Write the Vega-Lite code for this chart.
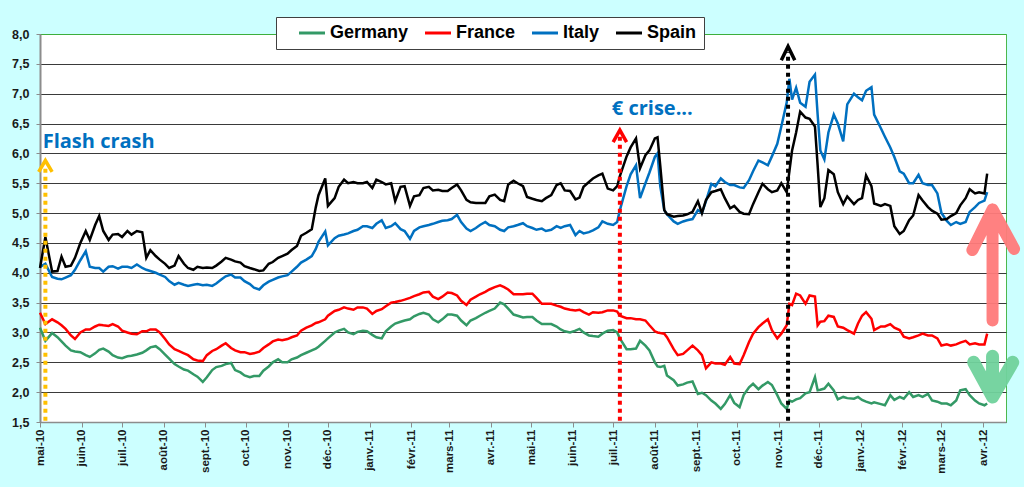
{
  "$schema": "https://vega.github.io/schema/vega-lite/v6.json",
  "width": 966,
  "height": 388,
  "autosize": {"type": "none"},
  "padding": {"left": 40, "top": 34, "right": 18, "bottom": 65},
  "background": "#CCFFFF",
  "datasets": {
    "yields": [
      {"date":"2010-05-01","Germany":3.08,"France":3.33,"Italy":4.10,"Spain":4.08},
      {"date":"2010-05-05","Germany":2.86,"France":3.14,"Italy":4.15,"Spain":4.60},
      {"date":"2010-05-10","Germany":2.99,"France":3.22,"Italy":3.93,"Spain":4.02},
      {"date":"2010-05-14","Germany":2.92,"France":3.17,"Italy":3.90,"Spain":4.03},
      {"date":"2010-05-17","Germany":2.85,"France":3.12,"Italy":3.89,"Spain":4.27},
      {"date":"2010-05-20","Germany":2.78,"France":3.06,"Italy":3.92,"Spain":4.10},
      {"date":"2010-05-24","Germany":2.70,"France":2.95,"Italy":3.96,"Spain":4.12},
      {"date":"2010-05-27","Germany":2.68,"France":2.89,"Italy":4.05,"Spain":4.25},
      {"date":"2010-05-31","Germany":2.67,"France":3.00,"Italy":4.21,"Spain":4.50},
      {"date":"2010-06-04","Germany":2.62,"France":3.05,"Italy":4.36,"Spain":4.70},
      {"date":"2010-06-07","Germany":2.59,"France":3.05,"Italy":4.10,"Spain":4.55},
      {"date":"2010-06-11","Germany":2.65,"France":3.10,"Italy":4.08,"Spain":4.80},
      {"date":"2010-06-14","Germany":2.71,"France":3.13,"Italy":4.08,"Spain":4.95},
      {"date":"2010-06-17","Germany":2.73,"France":3.12,"Italy":4.02,"Spain":4.70},
      {"date":"2010-06-21","Germany":2.68,"France":3.11,"Italy":4.10,"Spain":4.55},
      {"date":"2010-06-24","Germany":2.62,"France":3.14,"Italy":4.11,"Spain":4.64},
      {"date":"2010-06-28","Germany":2.58,"France":3.10,"Italy":4.07,"Spain":4.65},
      {"date":"2010-07-01","Germany":2.57,"France":3.03,"Italy":4.10,"Spain":4.60},
      {"date":"2010-07-05","Germany":2.60,"France":3.00,"Italy":4.10,"Spain":4.70},
      {"date":"2010-07-08","Germany":2.61,"France":2.98,"Italy":4.08,"Spain":4.64},
      {"date":"2010-07-12","Germany":2.63,"France":2.97,"Italy":4.14,"Spain":4.70},
      {"date":"2010-07-16","Germany":2.66,"France":3.02,"Italy":4.08,"Spain":4.68},
      {"date":"2010-07-19","Germany":2.70,"France":3.02,"Italy":4.05,"Spain":4.25},
      {"date":"2010-07-22","Germany":2.75,"France":3.05,"Italy":4.03,"Spain":4.38},
      {"date":"2010-07-26","Germany":2.77,"France":3.05,"Italy":4.00,"Spain":4.28},
      {"date":"2010-07-29","Germany":2.72,"France":3.00,"Italy":3.97,"Spain":4.22},
      {"date":"2010-08-02","Germany":2.63,"France":2.89,"Italy":3.93,"Spain":4.15},
      {"date":"2010-08-05","Germany":2.56,"France":2.80,"Italy":3.86,"Spain":4.08},
      {"date":"2010-08-09","Germany":2.47,"France":2.72,"Italy":3.80,"Spain":4.12},
      {"date":"2010-08-12","Germany":2.43,"France":2.69,"Italy":3.83,"Spain":4.28},
      {"date":"2010-08-16","Germany":2.38,"France":2.65,"Italy":3.80,"Spain":4.15},
      {"date":"2010-08-19","Germany":2.36,"France":2.62,"Italy":3.78,"Spain":4.08},
      {"date":"2010-08-23","Germany":2.30,"France":2.55,"Italy":3.80,"Spain":4.05},
      {"date":"2010-08-26","Germany":2.26,"France":2.53,"Italy":3.81,"Spain":4.10},
      {"date":"2010-08-30","Germany":2.17,"France":2.52,"Italy":3.79,"Spain":4.08},
      {"date":"2010-09-02","Germany":2.25,"France":2.62,"Italy":3.80,"Spain":4.09},
      {"date":"2010-09-06","Germany":2.37,"France":2.69,"Italy":3.78,"Spain":4.08},
      {"date":"2010-09-09","Germany":2.42,"France":2.72,"Italy":3.82,"Spain":4.12},
      {"date":"2010-09-13","Germany":2.44,"France":2.78,"Italy":3.89,"Spain":4.19},
      {"date":"2010-09-16","Germany":2.47,"France":2.82,"Italy":3.94,"Spain":4.25},
      {"date":"2010-09-20","Germany":2.49,"France":2.74,"Italy":3.97,"Spain":4.22},
      {"date":"2010-09-23","Germany":2.37,"France":2.70,"Italy":3.92,"Spain":4.19},
      {"date":"2010-09-27","Germany":2.33,"France":2.67,"Italy":3.92,"Spain":4.17},
      {"date":"2010-09-30","Germany":2.28,"France":2.67,"Italy":3.86,"Spain":4.11},
      {"date":"2010-10-04","Germany":2.25,"France":2.64,"Italy":3.81,"Spain":4.08},
      {"date":"2010-10-07","Germany":2.27,"France":2.65,"Italy":3.75,"Spain":4.06},
      {"date":"2010-10-11","Germany":2.27,"France":2.68,"Italy":3.72,"Spain":4.03},
      {"date":"2010-10-14","Germany":2.36,"France":2.74,"Italy":3.79,"Spain":4.04},
      {"date":"2010-10-18","Germany":2.43,"France":2.80,"Italy":3.85,"Spain":4.15},
      {"date":"2010-10-21","Germany":2.50,"France":2.85,"Italy":3.88,"Spain":4.18},
      {"date":"2010-10-25","Germany":2.55,"France":2.88,"Italy":3.92,"Spain":4.25},
      {"date":"2010-10-28","Germany":2.50,"France":2.87,"Italy":3.94,"Spain":4.28},
      {"date":"2010-11-01","Germany":2.50,"France":2.89,"Italy":3.96,"Spain":4.32},
      {"date":"2010-11-04","Germany":2.55,"France":2.92,"Italy":4.02,"Spain":4.38},
      {"date":"2010-11-08","Germany":2.58,"France":2.95,"Italy":4.10,"Spain":4.45},
      {"date":"2010-11-11","Germany":2.62,"France":3.03,"Italy":4.17,"Spain":4.62},
      {"date":"2010-11-15","Germany":2.66,"France":3.08,"Italy":4.22,"Spain":4.67},
      {"date":"2010-11-19","Germany":2.70,"France":3.12,"Italy":4.28,"Spain":4.73},
      {"date":"2010-11-22","Germany":2.73,"France":3.16,"Italy":4.40,"Spain":5.10},
      {"date":"2010-11-24","Germany":2.76,"France":3.17,"Italy":4.52,"Spain":5.30},
      {"date":"2010-11-29","Germany":2.86,"France":3.22,"Italy":4.69,"Spain":5.58},
      {"date":"2010-12-01","Germany":2.90,"France":3.28,"Italy":4.46,"Spain":5.12},
      {"date":"2010-12-06","Germany":3.00,"France":3.36,"Italy":4.58,"Spain":5.25},
      {"date":"2010-12-09","Germany":3.03,"France":3.38,"Italy":4.62,"Spain":5.44},
      {"date":"2010-12-13","Germany":3.06,"France":3.42,"Italy":4.64,"Spain":5.56},
      {"date":"2010-12-16","Germany":3.00,"France":3.40,"Italy":4.66,"Spain":5.50},
      {"date":"2010-12-20","Germany":2.97,"France":3.38,"Italy":4.70,"Spain":5.52},
      {"date":"2010-12-23","Germany":3.01,"France":3.42,"Italy":4.72,"Spain":5.50},
      {"date":"2010-12-27","Germany":3.03,"France":3.42,"Italy":4.78,"Spain":5.50},
      {"date":"2010-12-30","Germany":3.02,"France":3.40,"Italy":4.78,"Spain":5.52},
      {"date":"2011-01-03","Germany":2.96,"France":3.31,"Italy":4.75,"Spain":5.42},
      {"date":"2011-01-06","Germany":2.92,"France":3.36,"Italy":4.82,"Spain":5.56},
      {"date":"2011-01-10","Germany":2.90,"France":3.39,"Italy":4.88,"Spain":5.52},
      {"date":"2011-01-13","Germany":3.02,"France":3.44,"Italy":4.75,"Spain":5.48},
      {"date":"2011-01-17","Germany":3.10,"France":3.50,"Italy":4.78,"Spain":5.50},
      {"date":"2011-01-20","Germany":3.15,"France":3.51,"Italy":4.83,"Spain":5.20},
      {"date":"2011-01-24","Germany":3.18,"France":3.53,"Italy":4.73,"Spain":5.44},
      {"date":"2011-01-27","Germany":3.20,"France":3.55,"Italy":4.70,"Spain":5.45},
      {"date":"2011-01-31","Germany":3.22,"France":3.58,"Italy":4.57,"Spain":5.12},
      {"date":"2011-02-03","Germany":3.27,"France":3.61,"Italy":4.70,"Spain":5.28},
      {"date":"2011-02-07","Germany":3.31,"France":3.64,"Italy":4.76,"Spain":5.30},
      {"date":"2011-02-10","Germany":3.33,"France":3.67,"Italy":4.78,"Spain":5.42},
      {"date":"2011-02-14","Germany":3.30,"France":3.68,"Italy":4.80,"Spain":5.44},
      {"date":"2011-02-17","Germany":3.22,"France":3.60,"Italy":4.82,"Spain":5.38},
      {"date":"2011-02-21","Germany":3.17,"France":3.56,"Italy":4.85,"Spain":5.39},
      {"date":"2011-02-24","Germany":3.22,"France":3.60,"Italy":4.87,"Spain":5.37},
      {"date":"2011-02-28","Germany":3.30,"France":3.67,"Italy":4.88,"Spain":5.37},
      {"date":"2011-03-03","Germany":3.30,"France":3.66,"Italy":4.90,"Spain":5.42},
      {"date":"2011-03-07","Germany":3.28,"France":3.62,"Italy":4.97,"Spain":5.48},
      {"date":"2011-03-10","Germany":3.20,"France":3.53,"Italy":4.85,"Spain":5.38},
      {"date":"2011-03-14","Germany":3.12,"France":3.46,"Italy":4.74,"Spain":5.22},
      {"date":"2011-03-17","Germany":3.20,"France":3.55,"Italy":4.70,"Spain":5.18},
      {"date":"2011-03-21","Germany":3.24,"France":3.60,"Italy":4.75,"Spain":5.17},
      {"date":"2011-03-24","Germany":3.28,"France":3.64,"Italy":4.80,"Spain":5.17},
      {"date":"2011-03-28","Germany":3.33,"France":3.68,"Italy":4.85,"Spain":5.17},
      {"date":"2011-03-31","Germany":3.36,"France":3.72,"Italy":4.80,"Spain":5.28},
      {"date":"2011-04-04","Germany":3.40,"France":3.76,"Italy":4.78,"Spain":5.31},
      {"date":"2011-04-08","Germany":3.50,"France":3.79,"Italy":4.72,"Spain":5.22},
      {"date":"2011-04-11","Germany":3.47,"France":3.76,"Italy":4.70,"Spain":5.20},
      {"date":"2011-04-14","Germany":3.40,"France":3.72,"Italy":4.76,"Spain":5.48},
      {"date":"2011-04-18","Germany":3.30,"France":3.64,"Italy":4.78,"Spain":5.54},
      {"date":"2011-04-21","Germany":3.28,"France":3.64,"Italy":4.80,"Spain":5.50},
      {"date":"2011-04-25","Germany":3.25,"France":3.64,"Italy":4.83,"Spain":5.45},
      {"date":"2011-04-28","Germany":3.26,"France":3.65,"Italy":4.78,"Spain":5.27},
      {"date":"2011-05-02","Germany":3.26,"France":3.65,"Italy":4.75,"Spain":5.24},
      {"date":"2011-05-05","Germany":3.20,"France":3.58,"Italy":4.72,"Spain":5.22},
      {"date":"2011-05-09","Germany":3.14,"France":3.48,"Italy":4.74,"Spain":5.20},
      {"date":"2011-05-12","Germany":3.14,"France":3.48,"Italy":4.70,"Spain":5.25},
      {"date":"2011-05-16","Germany":3.14,"France":3.48,"Italy":4.72,"Spain":5.30},
      {"date":"2011-05-20","Germany":3.10,"France":3.45,"Italy":4.78,"Spain":5.47},
      {"date":"2011-05-23","Germany":3.05,"France":3.43,"Italy":4.75,"Spain":5.50},
      {"date":"2011-05-26","Germany":3.02,"France":3.40,"Italy":4.78,"Spain":5.38},
      {"date":"2011-05-30","Germany":3.00,"France":3.38,"Italy":4.80,"Spain":5.37},
      {"date":"2011-06-03","Germany":3.03,"France":3.37,"Italy":4.63,"Spain":5.23},
      {"date":"2011-06-06","Germany":3.06,"France":3.38,"Italy":4.70,"Spain":5.26},
      {"date":"2011-06-09","Germany":3.00,"France":3.34,"Italy":4.66,"Spain":5.44},
      {"date":"2011-06-13","Germany":2.95,"France":3.30,"Italy":4.68,"Spain":5.52},
      {"date":"2011-06-16","Germany":2.94,"France":3.34,"Italy":4.71,"Spain":5.58},
      {"date":"2011-06-20","Germany":2.93,"France":3.33,"Italy":4.76,"Spain":5.63},
      {"date":"2011-06-23","Germany":2.98,"France":3.34,"Italy":4.86,"Spain":5.66},
      {"date":"2011-06-27","Germany":3.03,"France":3.37,"Italy":4.82,"Spain":5.41},
      {"date":"2011-07-01","Germany":3.04,"France":3.37,"Italy":4.80,"Spain":5.38},
      {"date":"2011-07-04","Germany":3.00,"France":3.35,"Italy":4.85,"Spain":5.45},
      {"date":"2011-07-06","Germany":2.90,"France":3.28,"Italy":5.05,"Spain":5.62},
      {"date":"2011-07-11","Germany":2.72,"France":3.24,"Italy":5.45,"Spain":5.95},
      {"date":"2011-07-14","Germany":2.72,"France":3.24,"Italy":5.65,"Spain":6.10},
      {"date":"2011-07-18","Germany":2.73,"France":3.22,"Italy":5.80,"Spain":6.25},
      {"date":"2011-07-21","Germany":2.86,"France":3.22,"Italy":5.25,"Spain":5.75},
      {"date":"2011-07-25","Germany":2.78,"France":3.20,"Italy":5.50,"Spain":5.97},
      {"date":"2011-07-28","Germany":2.70,"France":3.12,"Italy":5.68,"Spain":6.05},
      {"date":"2011-08-01","Germany":2.50,"France":3.02,"Italy":5.94,"Spain":6.25},
      {"date":"2011-08-03","Germany":2.43,"France":3.00,"Italy":6.00,"Spain":6.27},
      {"date":"2011-08-05","Germany":2.42,"France":2.99,"Italy":5.45,"Spain":5.80},
      {"date":"2011-08-08","Germany":2.44,"France":2.98,"Italy":5.05,"Spain":5.05},
      {"date":"2011-08-10","Germany":2.28,"France":2.92,"Italy":4.98,"Spain":4.98},
      {"date":"2011-08-15","Germany":2.20,"France":2.72,"Italy":4.86,"Spain":4.94},
      {"date":"2011-08-18","Germany":2.11,"France":2.62,"Italy":4.82,"Spain":4.95},
      {"date":"2011-08-22","Germany":2.13,"France":2.64,"Italy":4.86,"Spain":4.96},
      {"date":"2011-08-25","Germany":2.16,"France":2.70,"Italy":4.88,"Spain":4.98},
      {"date":"2011-08-29","Germany":2.18,"France":2.78,"Italy":4.90,"Spain":5.02},
      {"date":"2011-09-02","Germany":1.97,"France":2.70,"Italy":5.05,"Spain":5.20},
      {"date":"2011-09-05","Germany":1.99,"France":2.62,"Italy":5.00,"Spain":5.00},
      {"date":"2011-09-08","Germany":1.95,"France":2.40,"Italy":5.20,"Spain":5.22},
      {"date":"2011-09-12","Germany":1.86,"France":2.50,"Italy":5.49,"Spain":5.35},
      {"date":"2011-09-15","Germany":1.81,"France":2.48,"Italy":5.45,"Spain":5.37},
      {"date":"2011-09-19","Germany":1.72,"France":2.48,"Italy":5.58,"Spain":5.40},
      {"date":"2011-09-22","Germany":1.80,"France":2.46,"Italy":5.52,"Spain":5.25},
      {"date":"2011-09-26","Germany":1.95,"France":2.59,"Italy":5.47,"Spain":5.08},
      {"date":"2011-09-29","Germany":1.82,"France":2.48,"Italy":5.47,"Spain":5.12},
      {"date":"2011-10-03","Germany":1.75,"France":2.47,"Italy":5.43,"Spain":5.02},
      {"date":"2011-10-06","Germany":1.95,"France":2.62,"Italy":5.42,"Spain":4.99},
      {"date":"2011-10-10","Germany":2.08,"France":2.84,"Italy":5.55,"Spain":4.98},
      {"date":"2011-10-13","Germany":2.14,"France":2.98,"Italy":5.70,"Spain":5.15},
      {"date":"2011-10-17","Germany":2.05,"France":3.09,"Italy":5.88,"Spain":5.35},
      {"date":"2011-10-20","Germany":2.11,"France":3.15,"Italy":5.85,"Spain":5.49},
      {"date":"2011-10-24","Germany":2.17,"France":3.22,"Italy":5.80,"Spain":5.40},
      {"date":"2011-10-27","Germany":2.12,"France":3.04,"Italy":5.95,"Spain":5.35},
      {"date":"2011-10-31","Germany":1.95,"France":2.90,"Italy":6.16,"Spain":5.38},
      {"date":"2011-11-03","Germany":1.81,"France":2.98,"Italy":6.45,"Spain":5.50},
      {"date":"2011-11-07","Germany":1.72,"France":3.12,"Italy":6.85,"Spain":5.35},
      {"date":"2011-11-09","Germany":1.86,"France":3.48,"Italy":7.25,"Spain":5.70},
      {"date":"2011-11-11","Germany":1.84,"France":3.46,"Italy":6.90,"Spain":6.05},
      {"date":"2011-11-14","Germany":1.88,"France":3.65,"Italy":7.10,"Spain":6.35},
      {"date":"2011-11-17","Germany":1.90,"France":3.62,"Italy":6.85,"Spain":6.70},
      {"date":"2011-11-21","Germany":1.98,"France":3.48,"Italy":6.78,"Spain":6.60},
      {"date":"2011-11-24","Germany":2.00,"France":3.62,"Italy":7.20,"Spain":6.58},
      {"date":"2011-11-28","Germany":2.25,"France":3.60,"Italy":7.32,"Spain":6.45},
      {"date":"2011-11-30","Germany":2.03,"France":3.12,"Italy":6.65,"Spain":5.80},
      {"date":"2011-12-02","Germany":2.04,"France":3.18,"Italy":6.05,"Spain":5.10},
      {"date":"2011-12-05","Germany":2.06,"France":3.19,"Italy":5.90,"Spain":5.25},
      {"date":"2011-12-08","Germany":2.14,"France":3.28,"Italy":6.35,"Spain":5.72},
      {"date":"2011-12-12","Germany":2.03,"France":3.26,"Italy":6.65,"Spain":5.65},
      {"date":"2011-12-15","Germany":1.88,"France":3.10,"Italy":6.50,"Spain":5.35},
      {"date":"2011-12-19","Germany":1.92,"France":3.08,"Italy":6.20,"Spain":5.15},
      {"date":"2011-12-22","Germany":1.90,"France":3.04,"Italy":6.82,"Spain":5.28},
      {"date":"2011-12-27","Germany":1.89,"France":2.98,"Italy":7.00,"Spain":5.15},
      {"date":"2011-12-30","Germany":1.92,"France":3.15,"Italy":6.94,"Spain":5.22},
      {"date":"2012-01-02","Germany":1.87,"France":3.28,"Italy":6.89,"Spain":5.25},
      {"date":"2012-01-05","Germany":1.84,"France":3.34,"Italy":7.05,"Spain":5.63},
      {"date":"2012-01-09","Germany":1.81,"France":3.23,"Italy":7.11,"Spain":5.45},
      {"date":"2012-01-11","Germany":1.83,"France":3.04,"Italy":6.65,"Spain":5.16},
      {"date":"2012-01-16","Germany":1.80,"France":3.10,"Italy":6.42,"Spain":5.12},
      {"date":"2012-01-19","Germany":1.78,"France":3.10,"Italy":6.28,"Spain":5.15},
      {"date":"2012-01-23","Germany":1.95,"France":3.14,"Italy":6.10,"Spain":5.12},
      {"date":"2012-01-26","Germany":1.87,"France":3.08,"Italy":5.94,"Spain":4.78},
      {"date":"2012-01-30","Germany":1.92,"France":3.04,"Italy":5.70,"Spain":4.65},
      {"date":"2012-02-02","Germany":1.89,"France":2.93,"Italy":5.66,"Spain":4.70},
      {"date":"2012-02-06","Germany":2.00,"France":2.90,"Italy":5.50,"Spain":4.88},
      {"date":"2012-02-09","Germany":1.92,"France":2.92,"Italy":5.50,"Spain":4.96},
      {"date":"2012-02-13","Germany":1.95,"France":2.95,"Italy":5.64,"Spain":5.30},
      {"date":"2012-02-16","Germany":1.92,"France":2.98,"Italy":5.50,"Spain":5.21},
      {"date":"2012-02-20","Germany":1.97,"France":2.95,"Italy":5.47,"Spain":5.10},
      {"date":"2012-02-23","Germany":1.86,"France":2.95,"Italy":5.47,"Spain":5.04},
      {"date":"2012-02-27","Germany":1.84,"France":2.90,"Italy":5.33,"Spain":4.99},
      {"date":"2012-03-01","Germany":1.81,"France":2.78,"Italy":5.00,"Spain":4.89},
      {"date":"2012-03-05","Germany":1.81,"France":2.80,"Italy":4.87,"Spain":4.90},
      {"date":"2012-03-08","Germany":1.78,"France":2.78,"Italy":4.80,"Spain":4.95},
      {"date":"2012-03-12","Germany":1.86,"France":2.80,"Italy":4.85,"Spain":5.00},
      {"date":"2012-03-15","Germany":2.03,"France":2.83,"Italy":4.82,"Spain":5.13},
      {"date":"2012-03-19","Germany":2.05,"France":2.86,"Italy":4.85,"Spain":5.25},
      {"date":"2012-03-22","Germany":1.95,"France":2.80,"Italy":5.02,"Spain":5.40},
      {"date":"2012-03-26","Germany":1.86,"France":2.82,"Italy":5.10,"Spain":5.33},
      {"date":"2012-03-29","Germany":1.81,"France":2.80,"Italy":5.17,"Spain":5.35},
      {"date":"2012-04-02","Germany":1.78,"France":2.80,"Italy":5.21,"Spain":5.33},
      {"date":"2012-04-04","Germany":1.81,"France":2.98,"Italy":5.35,"Spain":5.66}
    ],
    "arrows": [
      {"a":"flash","o":0,"date":"2010-05-05","value":1.52},
      {"a":"flash","o":1,"date":"2010-05-05","value":5.78},
      {"a":"flashHead","o":0,"date":"2010-04-30","value":5.69},
      {"a":"flashHead","o":1,"date":"2010-05-05","value":5.88},
      {"a":"flashHead","o":2,"date":"2010-05-10","value":5.69},
      {"a":"euro","o":0,"date":"2011-07-06","value":1.52},
      {"a":"euro","o":1,"date":"2011-07-06","value":6.3},
      {"a":"euroHead","o":0,"date":"2011-07-01","value":6.19},
      {"a":"euroHead","o":1,"date":"2011-07-06","value":6.39},
      {"a":"euroHead","o":2,"date":"2011-07-11","value":6.19},
      {"a":"nov","o":0,"date":"2011-11-08","value":1.52},
      {"a":"nov","o":1,"date":"2011-11-08","value":7.7},
      {"a":"novHead","o":0,"date":"2011-11-03","value":7.56},
      {"a":"novHead","o":1,"date":"2011-11-08","value":7.79},
      {"a":"novHead","o":2,"date":"2011-11-13","value":7.56},
      {"a":"up","o":0,"date":"2012-04-08","value":3.2},
      {"a":"up","o":1,"date":"2012-04-08","value":5.06},
      {"a":"up","o":2,"date":"2012-03-24","value":4.38},
      {"a":"up","o":3,"date":"2012-04-08","value":5.06},
      {"a":"up","o":4,"date":"2012-04-24","value":4.4},
      {"a":"down","o":0,"date":"2012-04-08","value":2.6},
      {"a":"down","o":1,"date":"2012-04-08","value":1.92},
      {"a":"down","o":2,"date":"2012-03-25","value":2.5},
      {"a":"down","o":3,"date":"2012-04-08","value":1.92},
      {"a":"down","o":4,"date":"2012-04-23","value":2.5}
    ],
    "notes": [
      {"date":"2010-05-03","value":6.09,"label":"Flash crash"},
      {"date":"2011-06-30","value":6.64,"label":"€ crise..."}
    ]
  },
  "encoding": {
    "x": {
      "field": "date",
      "type": "temporal",
      "scale": {
        "type": "utc",
        "domain": [
          {"year": 2010, "month": 5, "date": 1, "utc": true},
          {"year": 2012, "month": 4, "date": 18, "utc": true}
        ]
      },
      "axis": {
        "title": null,
        "grid": false,
        "tickCount": {"interval": "month", "step": 1},
        "labelExpr": "['janv.','févr.','mars','avr.','mai','juin','juil.','août','sept.','oct.','nov.','déc.'][utcmonth(datum.value)] + '-' + utcFormat(datum.value, '%y')",
        "labelAngle": -90,
        "labelFlush": false,
        "labelOverlap": false,
        "labelFontSize": 11.5,
        "tickSize": 5,
        "labelPadding": 2,
        "domainWidth": 1.5
      }
    },
    "y": {
      "field": "value",
      "type": "quantitative",
      "scale": {"domain": [1.5, 8], "nice": false, "zero": false},
      "axis": {
        "title": null,
        "values": [1.5, 2, 2.5, 3, 3.5, 4, 4.5, 5, 5.5, 6, 6.5, 7, 7.5, 8],
        "labelExpr": "replace(format(datum.value, '.1f'), '.', ',')",
        "labelFontSize": 12.5,
        "grid": true,
        "gridColor": {"condition": {"test": "datum.value == 8", "value": "#3DAE3D"}, "value": "#3A3A3A"},
        "gridWidth": 1,
        "tickSize": 4,
        "labelPadding": 7,
        "domainWidth": 2
      }
    }
  },
  "layer": [
    {
      "data": {"name": "yields"},
      "transform": [
        {"fold": ["Germany", "France", "Italy", "Spain"], "as": ["country", "value"]}
      ],
      "mark": {"type": "line", "strokeWidth": 2.5},
      "encoding": {
        "color": {
          "field": "country",
          "type": "nominal",
          "scale": {
            "domain": ["Germany", "France", "Italy", "Spain"],
            "range": ["#339966", "#FF0000", "#0070C0", "#000000"]
          },
          "legend": {
            "title": null,
            "orient": "none",
            "legendX": 236,
            "legendY": -17,
            "direction": "horizontal",
            "symbolType": "M-2,0H2",
            "symbolSize": 169,
            "symbolStrokeWidth": 3,
            "symbolOffset": 20,
            "labelOffset": 9,
            "columnPadding": -6,
            "labelFont": "Liberation Sans",
            "labelFontSize": 18,
            "labelFontWeight": "bold",
            "labelColor": "#000000",
            "labelExpr": "datum.label + '\u00a0\u00a0\u00a0'",
            "fillColor": "#FFFFFF",
            "strokeColor": "#404040",
            "padding": 7
          }
        }
      }
    },
    {
      "data": {"name": "arrows"},
      "transform": [{"filter": "datum.a == 'flash'"}],
      "mark": {"type": "line", "color": "#FFC000", "strokeWidth": 4, "strokeDash": [4, 4], "clip": false},
      "encoding": {"order": {"field": "o"}}
    },
    {
      "data": {"name": "arrows"},
      "transform": [{"filter": "datum.a == 'flashHead'"}],
      "mark": {"type": "line", "color": "#FFC000", "strokeWidth": 3.5, "clip": false},
      "encoding": {"order": {"field": "o"}}
    },
    {
      "data": {"name": "arrows"},
      "transform": [{"filter": "datum.a == 'euro'"}],
      "mark": {"type": "line", "color": "#FF0000", "strokeWidth": 4, "strokeDash": [4, 4], "clip": false},
      "encoding": {"order": {"field": "o"}}
    },
    {
      "data": {"name": "arrows"},
      "transform": [{"filter": "datum.a == 'euroHead'"}],
      "mark": {"type": "line", "color": "#FF0000", "strokeWidth": 3.5, "clip": false},
      "encoding": {"order": {"field": "o"}}
    },
    {
      "data": {"name": "arrows"},
      "transform": [{"filter": "datum.a == 'nov'"}],
      "mark": {"type": "line", "color": "#000000", "strokeWidth": 4, "strokeDash": [4, 4], "clip": false},
      "encoding": {"order": {"field": "o"}}
    },
    {
      "data": {"name": "arrows"},
      "transform": [{"filter": "datum.a == 'novHead'"}],
      "mark": {"type": "line", "color": "#000000", "strokeWidth": 3.5, "clip": false},
      "encoding": {"order": {"field": "o"}}
    },
    {
      "data": {"name": "arrows"},
      "transform": [{"filter": "datum.a == 'up'"}],
      "mark": {"type": "line", "color": "#FF7A7A", "strokeWidth": 12, "strokeCap": "round", "strokeJoin": "round", "opacity": 0.95, "clip": false},
      "encoding": {"order": {"field": "o"}}
    },
    {
      "data": {"name": "arrows"},
      "transform": [{"filter": "datum.a == 'down'"}],
      "mark": {"type": "line", "color": "#70D29C", "strokeWidth": 13, "strokeCap": "round", "strokeJoin": "round", "opacity": 0.95, "clip": false},
      "encoding": {"order": {"field": "o"}}
    },
    {
      "data": {"name": "notes"},
      "mark": {"type": "text", "font": "Open Sans", "fontWeight": "bold", "fontSize": 20, "color": "#0070C0", "align": "left", "baseline": "alphabetic"},
      "encoding": {"text": {"field": "label"}}
    }
  ],
  "config": {
    "view": {"stroke": "#4DB84D", "strokeWidth": 1, "fill": "#FFFFFF"},
    "font": "Liberation Sans",
    "axis": {
      "labelFont": "Liberation Sans",
      "labelFontWeight": "bold",
      "labelColor": "#1A1A1A",
      "domainColor": "#8C8C8C",
      "tickColor": "#8C8C8C"
    }
  }
}
